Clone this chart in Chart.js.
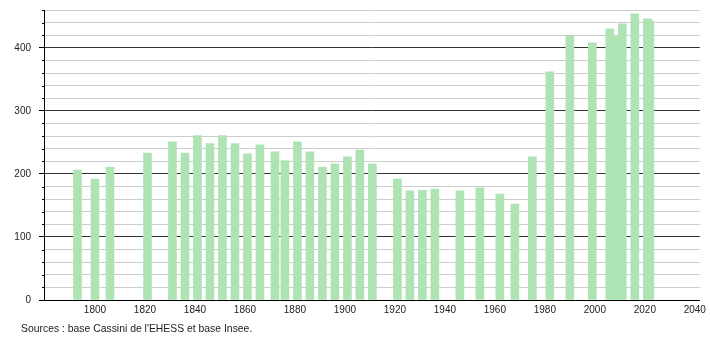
<!DOCTYPE html>
<html>
<head>
<meta charset="utf-8">
<script src="https://cdn.jsdelivr.net/npm/chart.js@4/dist/chart.umd.min.js"></script>
<style>
  html, body { margin: 0; padding: 0; background: #fff; }
  #wrap { position: relative; width: 710px; height: 340px; }
  #source {
    position: absolute; left: 21px; top: 323px;
    font: 10.4px "Liberation Sans", Arial, sans-serif; color: #222;
  }
</style>
</head>
<body>
<div id="wrap">
  <canvas id="chart" width="710" height="340"></canvas>
  <div id="source">Sources : base Cassini de l'EHESS et base Insee.</div>
</div>
<script>
// === Data ===
const years = [1793, 1800, 1806, 1821, 1831, 1836, 1841, 1846, 1851, 1856,
  1861, 1866, 1872, 1876, 1881, 1886, 1891, 1896, 1901, 1906,
  1911, 1921, 1926, 1931, 1936, 1946, 1954, 1962, 1968, 1975,
  1982, 1990, 1999, 2006, 2008, 2011, 2016, 2021, 2022];
const population = [206, 192, 211, 233, 251, 233, 261, 248, 261, 248,
  232, 246, 235, 221, 251, 235, 211, 216, 227, 238,
  216, 192, 173, 174, 176, 173, 178, 168, 152, 227,
  362, 419, 408, 430, 418, 438, 454, 446, 443];
const xTicks = [1800, 1820, 1840, 1860, 1880, 1900, 1920, 1940, 1960, 1980, 2000, 2020, 2040];

const BAR = '#aee4b4';
const font = { family: '"Liberation Sans", Arial, sans-serif', size: 10 };

// short ticks for the minor (every 20) y steps
const minorTicks = {
  id: 'minorTicks',
  afterDraw(chart) {
    const y = chart.scales.y;
    const ctx = chart.ctx;
    ctx.save();
    ctx.strokeStyle = '#000';
    ctx.lineWidth = 1;
    y.ticks.forEach(t => {
      if (t.value % 100 === 0) return;
      const py = Math.round(y.getPixelForValue(t.value)) + 0.5;
      ctx.beginPath();
      ctx.moveTo(y.right - 2, py);
      ctx.lineTo(y.right, py);
      ctx.stroke();
    });
    ctx.restore();
  }
};

new Chart(document.getElementById('chart'), {
  type: 'bar',
  data: {
    datasets: [{
      data: years.map((yr, i) => ({ x: yr, y: population[i] })),
      backgroundColor: BAR,
      borderWidth: 0,
      barThickness: 8
    }]
  },
  options: {
    responsive: false,
    animation: false,
    layout: { padding: { left: 0, right: 10, top: 10, bottom: 0 } },
    plugins: { legend: { display: false }, tooltip: { enabled: false } },
    scales: {
      x: {
        type: 'linear',
        offset: false,
        min: 1779.6,
        max: 2042,
        afterBuildTicks: scale => { scale.ticks = xTicks.map(v => ({ value: v })); },
        afterFit: scale => { scale.height = 40; },
        grid: { display: false, drawTicks: false, offset: false },
        border: { display: true, color: '#000', width: 1 },
        ticks: { font, color: '#222', padding: 4, maxRotation: 0, autoSkip: false,
          callback: v => String(v) }
      },
      y: {
        min: 0,
        max: 460,
        afterFit: scale => { scale.width = 44; scale.paddingTop = 0; },
        grid: {
          color: c => (c.tick && c.tick.value % 100 === 0) ? '#333' : '#cccccc',
          tickColor: c => (c.tick && c.tick.value % 100 === 0) ? '#000' : 'rgba(0,0,0,0)',
          tickLength: 5,
          lineWidth: 1
        },
        border: { display: true, color: '#000', width: 1 },
        ticks: { stepSize: 20, autoSkip: false, font, color: '#222', padding: 8,
          callback: v => (v % 100 === 0 ? String(v) : '') }
      }
    }
  },
  plugins: [minorTicks]
});
</script>
</body>
</html>
